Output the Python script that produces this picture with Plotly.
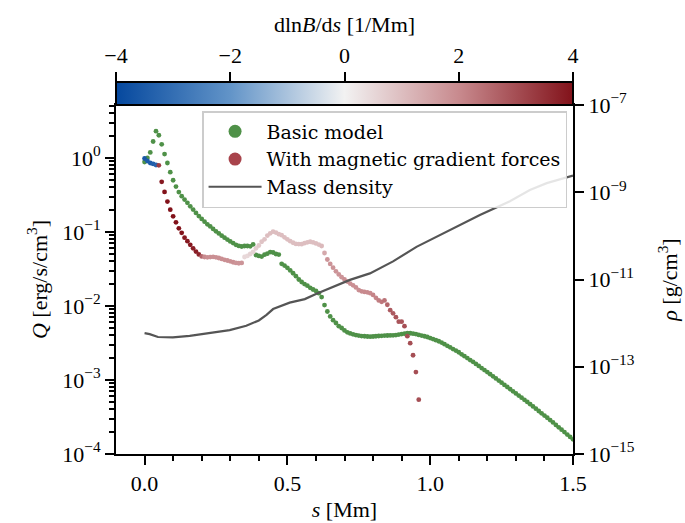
import plotly.graph_objects as go

# Heating rate Q along the loop coordinate s, basic model
s_basic = [
    0.00, 0.01, 0.02, 0.03, 0.04, 0.05, 0.06, 0.07, 0.08, 0.09,
    0.10, 0.11, 0.12, 0.13, 0.14, 0.15, 0.16, 0.17, 0.18, 0.19,
    0.20, 0.21, 0.22, 0.23, 0.24, 0.25, 0.26, 0.27, 0.28, 0.29,
    0.30, 0.31, 0.32, 0.33, 0.34, 0.35, 0.36, 0.37, 0.38, 0.39,
    0.40, 0.41, 0.42, 0.43, 0.44, 0.45, 0.46, 0.47, 0.48, 0.49,
    0.50, 0.51, 0.52, 0.53, 0.54, 0.55, 0.56, 0.57, 0.58, 0.59,
    0.60, 0.61, 0.62, 0.63, 0.64, 0.65, 0.66, 0.67, 0.68, 0.69,
    0.70, 0.71, 0.72, 0.73, 0.74, 0.75, 0.76, 0.77, 0.78, 0.79,
    0.80, 0.81, 0.82, 0.83, 0.84, 0.85, 0.86, 0.87, 0.88, 0.89,
    0.90, 0.91, 0.92, 0.93, 0.94, 0.95, 0.96, 0.97, 0.98, 0.99,
    1.00, 1.01, 1.02, 1.03, 1.04, 1.05, 1.06, 1.07, 1.08, 1.09,
    1.10, 1.11, 1.12, 1.13, 1.14, 1.15, 1.16, 1.17, 1.18, 1.19,
    1.20, 1.21, 1.22, 1.23, 1.24, 1.25, 1.26, 1.27, 1.28, 1.29,
    1.30, 1.31, 1.32, 1.33, 1.34, 1.35, 1.36, 1.37, 1.38, 1.39,
    1.40, 1.41, 1.42, 1.43, 1.44, 1.45, 1.46, 1.47, 1.48, 1.49,
    1.50,
]
q_basic = [
    0.883, 1.00, 1.19, 1.67, 2.30, 2.03, 1.53, 1.13, 0.855, 0.643,
    0.500, 0.411, 0.346, 0.305, 0.274, 0.248, 0.222, 0.201, 0.181, 0.164,
    0.150, 0.138, 0.127, 0.119, 0.110, 0.102, 0.0955, 0.0891, 0.0838, 0.0789,
    0.0746, 0.0708, 0.0671, 0.0649, 0.0637, 0.0647, 0.0647, 0.0641, 0.0679, 0.0489,
    0.0475, 0.0466, 0.0493, 0.0511, 0.0535, 0.0528, 0.0504, 0.0496, 0.0371, 0.0352,
    0.0328, 0.0302, 0.0277, 0.0253, 0.0228, 0.0211, 0.0198, 0.0188, 0.0176, 0.0167,
    0.0160, 0.0149, 0.0132, 0.0103, 0.00843, 0.00723, 0.00643, 0.00589, 0.00533, 0.00504,
    0.00467, 0.00441, 0.00426, 0.00414, 0.00405, 0.00398, 0.00392, 0.00390, 0.00387, 0.00385,
    0.00387, 0.00390, 0.00393, 0.00395, 0.00398, 0.00399, 0.00400, 0.00402, 0.00405, 0.00411,
    0.00418, 0.00423, 0.00428, 0.00428, 0.00423, 0.00417, 0.00407, 0.00398, 0.00390, 0.00381,
    0.00368, 0.00357, 0.00345, 0.00334, 0.00320, 0.00305, 0.00290, 0.00276, 0.00262, 0.00250,
    0.00237, 0.00222, 0.00210, 0.00198, 0.00186, 0.00176, 0.00165, 0.00155, 0.00145, 0.00136,
    0.00128, 0.00120, 0.00112, 0.00105, 0.000982, 0.000920, 0.000859, 0.000804, 0.000753, 0.000703,
    0.000659, 0.000615, 0.000577, 0.000540, 0.000505, 0.000472, 0.000440, 0.000410, 0.000381, 0.000355,
    0.000331, 0.000309, 0.000287, 0.000267, 0.000247, 0.000229, 0.000213, 0.000198, 0.000183, 0.000170,
    0.000158,
]

# Heating rate with magnetic gradient forces, coloured by dlnB/ds
s_grad = [
    0.00, 0.01, 0.02, 0.03, 0.04, 0.05, 0.06, 0.07, 0.08, 0.09,
    0.10, 0.11, 0.12, 0.13, 0.14, 0.15, 0.16, 0.17, 0.18, 0.19,
    0.20, 0.21, 0.22, 0.23, 0.24, 0.25, 0.26, 0.27, 0.28, 0.29,
    0.30, 0.31, 0.32, 0.33, 0.34, 0.35, 0.36, 0.37, 0.38, 0.39,
    0.40, 0.41, 0.42, 0.43, 0.44, 0.45, 0.46, 0.47, 0.48, 0.49,
    0.50, 0.51, 0.52, 0.53, 0.54, 0.55, 0.56, 0.57, 0.58, 0.59,
    0.60, 0.61, 0.62, 0.63, 0.64, 0.65, 0.66, 0.67, 0.68, 0.69,
    0.70, 0.71, 0.72, 0.73, 0.74, 0.75, 0.76, 0.77, 0.78, 0.79,
    0.80, 0.81, 0.82, 0.83, 0.84, 0.85, 0.86, 0.87, 0.88, 0.89,
    0.90, 0.91, 0.92, 0.93, 0.94, 0.95, 0.96,
]
q_grad = [
    0.984, 0.910, 0.855, 0.830, 0.804, 0.797, 0.477, 0.348, 0.258, 0.200,
    0.163, 0.135, 0.112, 0.0973, 0.0838, 0.0752, 0.0671, 0.0602, 0.0543, 0.0497,
    0.0468, 0.0459, 0.0455, 0.0458, 0.0462, 0.0455, 0.0445, 0.0433, 0.0421, 0.0412,
    0.0401, 0.0390, 0.0382, 0.0378, 0.0382, 0.0459, 0.0475, 0.0504, 0.0538, 0.0602,
    0.0657, 0.0738, 0.0797, 0.0894, 0.0960, 0.101, 0.0982, 0.0934, 0.0906, 0.0846,
    0.0797, 0.0752, 0.0715, 0.0689, 0.0686, 0.0685, 0.0706, 0.0726, 0.0738, 0.0723,
    0.0701, 0.0676, 0.0647, 0.0520, 0.0425, 0.0370, 0.0329, 0.0294, 0.0267, 0.0245,
    0.0228, 0.0214, 0.0201, 0.0190, 0.0178, 0.0164, 0.0158, 0.0155, 0.0153, 0.0149,
    0.0141, 0.0129, 0.0119, 0.0114, 0.0119, 0.0104, 0.00877, 0.00796, 0.00706, 0.00614,
    0.00614, 0.00533, 0.00391, 0.00314, 0.00216, 0.00128, 0.000542,
]
dlnb_grad = [
    -3.6, -3.5, -3.5, -3.4, -3.3, 3.3, 3.9, 4.0, 4.0, 4.0,
    4.0, 4.0, 4.0, 4.0, 3.9, 3.9, 3.9, 3.8, 3.8, 3.7,
    2.6, 2.0, 1.9, 1.9, 1.9, 1.9, 1.9, 1.9, 1.9, 1.9,
    1.9, 1.9, 1.8, 1.8, 1.8, 0.5, 0.5, 0.6, 0.6, 0.7,
    0.8, 0.9, 0.9, 1.0, 1.0, 1.0, 1.0, 1.0, 1.0, 1.0,
    1.0, 1.0, 1.0, 1.0, 1.0, 1.0, 1.0, 1.0, 1.0, 1.0,
    1.0, 1.0, 1.1, 1.4, 1.8, 1.8, 1.8, 1.8, 1.8, 1.8,
    1.9, 1.9, 1.9, 1.9, 1.9, 1.9, 2.0, 2.0, 2.0, 2.0,
    2.1, 2.1, 2.2, 2.3, 2.4, 2.6, 2.8, 2.8, 2.9, 2.9,
    2.9, 3.0, 3.0, 3.0, 3.0, 3.0, 3.0,
]

# Mass density along the loop
s_rho = [0.000, 0.018, 0.047, 0.099, 0.158, 0.228, 0.298, 0.356, 0.400, 0.427,
         0.450, 0.508, 0.561, 0.602, 0.695, 0.719, 0.789, 0.870, 0.952, 1.057,
         1.174, 1.279, 1.349, 1.408, 1.500]
rho = [5.9e-13, 5.6e-13, 4.8e-13, 4.7e-13, 5.1e-13, 6.0e-13, 6.9e-13, 8.7e-13, 1.15e-12, 1.55e-12,
       2.1e-12, 2.95e-12, 3.55e-12, 4.7e-12, 8.3e-12, 9.8e-12, 1.38e-11, 2.6e-11, 5.6e-11, 1.26e-10,
       3.0e-10, 6.2e-10, 1.12e-9, 1.62e-9, 2.4e-9]

x_major = [0.0, 0.5, 1.0, 1.5]
x_major_text = ["0.0", "0.5", "1.0", "1.5"]
x_minor = [0.1, 0.2, 0.3, 0.4, 0.6, 0.7, 0.8, 0.9, 1.1, 1.2, 1.3, 1.4]
q_exps = [-4, -3, -2, -1, 0]
rho_exps = [-15, -13, -11, -9, -7]
cb_ticks = [-4, -2, 0, 2, 4]
cb_text = ["\u22124", "\u22122", "0", "2", "4"]

FONT = "Liberation Serif"
LEGEND_FONT = "DejaVu Serif"
FS = 22
GREEN = "rgb(79,145,72)"
GRAD_LEGEND = "rgb(168,67,75)"
GREY = "rgb(85,85,85)"

diverging = [
    [0.0, "rgb(5,72,158)"],
    [0.25, "rgb(98,148,200)"],
    [0.5, "rgb(242,242,242)"],
    [0.75, "rgb(200,138,142)"],
    [1.0, "rgb(130,18,26)"],
]

# pixel layout: main panel 457 x 349, colour strip 23 px tall above it
W, H = 685, 523
M_L, M_R, M_T, M_B = 116, 112, 82, 69
STRIP = 23
PANEL_H = H - M_T - M_B
SPLIT = (PANEL_H - STRIP) / PANEL_H


def sup_label(e):
    txt = str(e).replace("-", "\u2212")
    return f"10<sup>{txt}</sup>"


q_minor = [m * 10.0 ** e for e in [-4, -3, -2, -1] for m in range(2, 10)] + [2.0, 3.0, 4.0, 5.0]

fig = go.Figure()

fig.add_trace(go.Scatter(
    x=s_basic, y=q_basic, mode="markers",
    marker=dict(color=GREEN, size=4.8, line=dict(width=0)),
    showlegend=False, hoverinfo="skip",
))
fig.add_trace(go.Scatter(
    x=s_grad, y=q_grad, mode="markers",
    marker=dict(
        color=dlnb_grad, colorscale=diverging, cmin=-4, cmax=4, size=4.8,
        line=dict(width=0), showscale=True,
        colorbar=dict(
            orientation="h", x=0.5, xanchor="center", y=1.0, yanchor="top",
            len=W - M_L - M_R, lenmode="pixels", thickness=STRIP, thicknessmode="pixels",
            xpad=0, ypad=0, outlinewidth=2, outlinecolor="black",
            ticks="", showticklabels=False,
        ),
    ),
    showlegend=False, hoverinfo="skip",
))
fig.add_trace(go.Scatter(
    x=s_rho, y=rho, mode="lines", yaxis="y2",
    line=dict(color=GREY, width=2.2),
    showlegend=False, hoverinfo="skip",
))
# carrier for the colour-scale axis above the strip
fig.add_trace(go.Scatter(
    x=[None], y=[None], xaxis="x2", yaxis="y3", mode="markers",
    showlegend=False, hoverinfo="skip",
))

# legend entries
fig.add_trace(go.Scatter(x=[None], y=[None], mode="markers", name="Basic model",
                         marker=dict(color=GREEN, size=13)))
fig.add_trace(go.Scatter(x=[None], y=[None], mode="markers", name="With magnetic gradient forces",
                         marker=dict(color=GRAD_LEGEND, size=13)))
fig.add_trace(go.Scatter(x=[None], y=[None], mode="lines", name="Mass density",
                         line=dict(color=GREY, width=2.2)))

axis_common = dict(
    showgrid=False, zeroline=False, showline=True, linewidth=2, linecolor="black",
    ticks="outside", ticklen=9, tickwidth=2, tickcolor="black", automargin=False,
    tickfont=dict(family=FONT, size=FS, color="black"),
)

fig.update_layout(
    width=W, height=H,
    margin=dict(l=M_L, r=M_R, t=M_T, b=M_B, autoexpand=False),
    paper_bgcolor="white", plot_bgcolor="white",
    font=dict(family=FONT, size=FS, color="black"),
    legend=dict(
        x=0.987, xanchor="right", y=(H - M_B - 111) / PANEL_H, yanchor="top",
        bgcolor="rgba(255,255,255,0.85)", bordercolor="#cccccc", borderwidth=1.5,
        font=dict(family=LEGEND_FONT, size=19, color="black"),
        itemwidth=53, tracegroupgap=0,
    ),
    xaxis=dict(
        **axis_common, mirror=True, range=[-0.1, 1.5], anchor="y",
        tickvals=x_major, ticktext=x_major_text,
        minor=dict(tickvals=x_minor, ticks="outside", ticklen=5, tickwidth=1.5, tickcolor="black"),
        title=dict(text="<i>s</i> [Mm]", standoff=6, font=dict(family=FONT, size=FS)),
    ),
    yaxis=dict(
        **axis_common, type="log", range=[-4, 0.716], domain=[0, SPLIT],
        tickvals=[10.0 ** e for e in q_exps], ticktext=[sup_label(e) for e in q_exps],
        minor=dict(tickvals=q_minor, ticks="outside", ticklen=5, tickwidth=1.5, tickcolor="black"),
        title=dict(text="<i>Q</i> [erg/s/cm<sup>3</sup>]", standoff=9, font=dict(family=FONT, size=FS)),
    ),
    yaxis2=dict(
        **axis_common, type="log", range=[-15, -7], overlaying="y", side="right",
        domain=[0, SPLIT], anchor="x",
        tickvals=[10.0 ** e for e in rho_exps], ticktext=[sup_label(e) for e in rho_exps],
        title=dict(text="<i>\u03c1</i> [g/cm<sup>3</sup>]", standoff=28, font=dict(family=FONT, size=FS)),
    ),
    xaxis2=dict(
        range=[-4, 4], domain=[0, 1], anchor="y3", side="top",
        showgrid=False, zeroline=False, showline=False, automargin=False,
        ticks="outside", ticklen=9, tickwidth=2, tickcolor="black",
        tickvals=cb_ticks, ticktext=cb_text,
        tickfont=dict(family=FONT, size=FS, color="black"),
        title=dict(text="dln<i>B</i>/d<i>s</i> [1/Mm]", standoff=4, font=dict(family=FONT, size=FS)),
        fixedrange=True,
    ),
    yaxis3=dict(domain=[SPLIT, 1], anchor="x2", visible=False, range=[0, 1], fixedrange=True),
)

fig.write_html("out.html")
